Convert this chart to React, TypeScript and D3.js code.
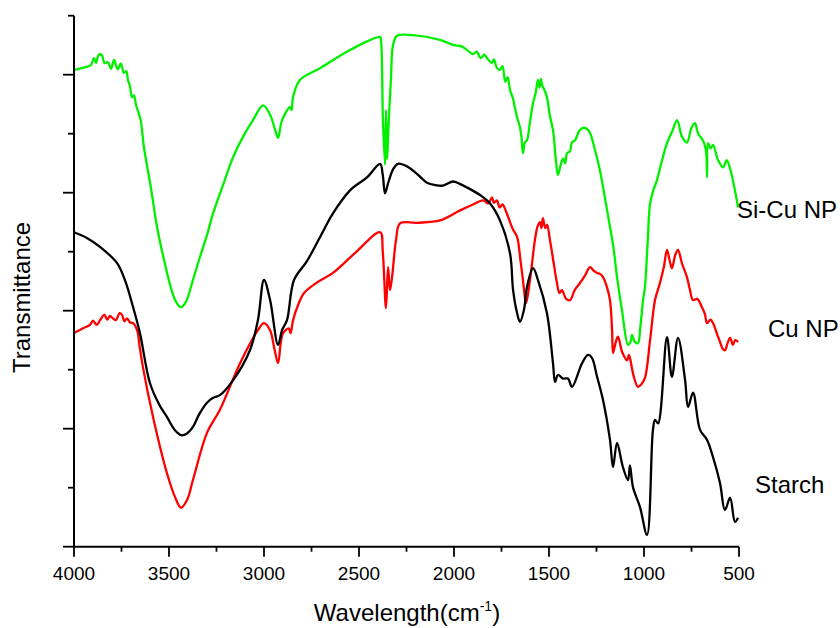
import React from "react";
import * as d3 from "d3";

// Wavenumber (cm-1) / transmittance (arb. units)
const siCuNP: [number, number][] = [
  [4000, 80.8], [3950, 81.2], [3912, 81.6], [3895, 82.8], [3884, 82.0], [3870, 83.4], [3853, 83.3],
  [3840, 82.0], [3821, 82.1], [3805, 81.0], [3789, 82.5], [3770, 80.9], [3754, 81.9], [3737, 80.3],
  [3725, 80.6], [3716, 79.1], [3705, 78.0], [3695, 76.2], [3685, 76.5], [3674, 74.9], [3660, 73.5],
  [3649, 72.3], [3640, 70.0], [3632, 67.7], [3596, 61.0], [3563, 54.2], [3526, 48.6], [3491, 44.0],
  [3463, 41.5], [3437, 40.6], [3411, 41.5], [3374, 45.2], [3337, 49.1], [3300, 52.8], [3268, 56.5],
  [3210, 61.8], [3163, 66.0], [3110, 69.5], [3058, 72.3], [3005, 74.8], [2968, 73.2], [2940, 70.5],
  [2926, 69.3], [2905, 72.3], [2863, 74.5], [2855, 74.0], [2847, 76.2], [2811, 79.1], [2705, 81.1],
  [2547, 84.2], [2389, 86.4], [2384, 85.8], [2374, 72.3], [2363, 64.7], [2358, 74.0], [2353, 65.7],
  [2342, 73.2], [2332, 79.1], [2321, 85.0], [2300, 86.6], [2216, 86.7], [2074, 85.9], [2000, 85.0],
  [1960, 84.8], [1932, 84.2], [1900, 83.5], [1880, 83.9], [1860, 82.8], [1840, 83.4], [1826, 82.8],
  [1800, 82.0], [1790, 82.6], [1775, 81.2], [1758, 80.8], [1745, 81.5], [1730, 78.8], [1718, 79.6],
  [1705, 77.4], [1690, 76.0], [1680, 74.5], [1668, 72.8], [1653, 71.1], [1645, 69.5], [1637, 66.7],
  [1627, 68.5], [1616, 68.9], [1600, 72.0], [1584, 75.2], [1570, 77.0], [1558, 79.1], [1550, 77.8],
  [1542, 79.3], [1537, 78.3], [1525, 77.5], [1511, 76.2], [1495, 73.0], [1479, 70.6], [1465, 66.0],
  [1453, 63.0], [1440, 64.5], [1426, 65.8], [1415, 65.0], [1405, 66.7], [1390, 67.0], [1380, 68.5],
  [1363, 68.9], [1340, 70.5], [1321, 71.0], [1300, 70.8], [1284, 70.1], [1260, 67.5], [1232, 63.8],
  [1205, 59.0], [1179, 54.2], [1160, 50.5], [1142, 45.7], [1116, 40.1], [1084, 34.2], [1072, 34.6],
  [1063, 35.9], [1050, 34.8], [1032, 34.5], [1020, 37.0], [1005, 41.8], [995, 44.0], [980, 52.0],
  [968, 58.2], [950, 60.5], [932, 62.1], [905, 65.5], [879, 68.4], [850, 70.5], [826, 72.3],
  [800, 69.5], [774, 68.5], [750, 71.0], [732, 71.8], [715, 70.0], [690, 68.9], [674, 67.2],
  [668, 62.6], [663, 68.4], [650, 67.5], [637, 68.1], [610, 65.5], [584, 64.3], [565, 65.5],
  [547, 64.1], [525, 61.0], [505, 57.5]
];

const cuNP: [number, number][] = [
  [4000, 36.2], [3960, 36.9], [3916, 37.6], [3900, 38.3], [3880, 37.6], [3863, 38.4], [3840, 39.3],
  [3825, 38.5], [3811, 39.1], [3795, 38.7], [3779, 38.4], [3760, 39.6], [3747, 39.3], [3735, 38.2],
  [3721, 38.7], [3705, 38.0], [3689, 37.9], [3668, 36.7], [3655, 34.0], [3637, 30.4], [3584, 22.0],
  [3511, 12.5], [3468, 8.4], [3437, 6.6], [3405, 7.9], [3374, 11.3], [3300, 19.3], [3232, 23.2],
  [3126, 31.1], [3032, 36.7], [3000, 37.9], [2968, 36.7], [2945, 33.5], [2926, 31.1], [2912, 34.5],
  [2900, 36.2], [2870, 37.0], [2860, 36.2], [2847, 38.4], [2820, 41.0], [2789, 43.0], [2720, 44.8],
  [2637, 46.4], [2520, 49.8], [2389, 53.3], [2375, 50.0], [2358, 40.4], [2347, 47.4], [2337, 43.5],
  [2326, 45.7], [2305, 52.0], [2284, 54.8], [2195, 54.9], [2074, 55.3], [1968, 57.0], [1900, 58.0],
  [1847, 58.7], [1820, 58.2], [1800, 59.2], [1790, 58.3], [1774, 58.7], [1760, 57.5], [1745, 58.0],
  [1721, 56.4], [1705, 55.0], [1690, 53.8], [1668, 52.5], [1650, 48.5], [1637, 45.2], [1621, 41.3],
  [1600, 45.2], [1574, 52.0], [1560, 54.3], [1547, 55.0], [1540, 54.0], [1532, 55.7], [1520, 54.0],
  [1510, 54.6], [1495, 52.0], [1475, 48.0], [1458, 44.7], [1445, 43.0], [1432, 43.5], [1410, 42.0],
  [1389, 41.8], [1365, 43.5], [1337, 44.7], [1310, 46.0], [1284, 47.4], [1265, 46.8], [1247, 46.4],
  [1230, 46.2], [1216, 45.7], [1195, 44.0], [1179, 41.8], [1168, 36.7], [1163, 32.8], [1150, 34.5],
  [1137, 35.6], [1115, 33.0], [1089, 31.6], [1080, 32.5], [1074, 32.0], [1055, 29.0], [1032, 27.1],
  [1015, 27.5], [995, 28.6], [968, 35.0], [942, 41.8], [916, 44.7], [895, 47.5], [879, 50.3],
  [865, 48.5], [853, 47.2], [835, 49.5], [821, 50.3], [800, 48.0], [774, 45.7], [758, 43.5],
  [742, 41.8], [720, 42.0], [695, 40.6], [680, 39.5], [668, 37.9], [650, 38.5], [637, 37.9],
  [615, 36.0], [600, 34.7], [585, 33.5], [574, 33.3], [560, 34.5], [547, 35.4], [532, 34.2],
  [520, 35.0], [505, 34.7]
];

const starch: [number, number][] = [
  [4000, 53.3], [3930, 52.3], [3863, 50.8], [3774, 48.1], [3730, 45.0], [3689, 40.6], [3653, 36.2],
  [3600, 27.7], [3550, 24.0], [3511, 22.0], [3470, 19.8], [3437, 18.9], [3405, 19.2], [3374, 20.3],
  [3340, 22.5], [3300, 24.4], [3270, 25.2], [3232, 25.7], [3163, 28.2], [3074, 33.3], [3032, 38.4],
  [3000, 45.2], [2968, 41.8], [2926, 34.2], [2905, 36.7], [2879, 38.4], [2842, 45.2], [2774, 48.4],
  [2700, 52.8], [2637, 56.5], [2547, 60.4], [2458, 62.6], [2389, 64.9], [2375, 63.0], [2363, 59.9],
  [2347, 61.6], [2320, 64.0], [2295, 64.9], [2250, 64.5], [2195, 63.2], [2142, 61.7], [2100, 61.3],
  [2058, 61.2], [2005, 61.9], [1970, 61.5], [1932, 60.9], [1863, 59.6], [1811, 58.2], [1758, 55.3],
  [1705, 49.7], [1689, 43.5], [1668, 39.6], [1653, 38.1], [1632, 40.1], [1616, 44.0], [1584, 47.2],
  [1558, 45.2], [1511, 39.6], [1479, 31.1], [1468, 27.9], [1453, 29.1], [1426, 28.5], [1400, 28.5],
  [1379, 27.1], [1326, 31.1], [1295, 32.5], [1274, 32.0], [1247, 28.8], [1216, 24.9], [1179, 18.1],
  [1163, 13.5], [1142, 17.6], [1111, 13.5], [1084, 11.3], [1074, 13.8], [1058, 10.1], [1021, 6.7],
  [984, 2.0], [953, 19.8], [942, 21.5], [926, 20.9], [879, 35.5], [853, 28.8], [821, 35.4],
  [784, 28.3], [768, 23.7], [742, 26.1], [705, 19.8], [668, 18.1], [637, 15.2], [600, 10.8],
  [574, 6.2], [547, 8.3], [521, 4.2], [505, 4.9]
];

const xTickValues = [4000, 3750, 3500, 3250, 3000, 2750, 2500, 2250, 2000, 1750, 1500, 1250, 1000, 750, 500];
const xTickLabels = ["4000", "", "3500", "", "3000", "", "2500", "", "2000", "", "1500", "", "1000", "", "500"];
const yTickValues = [0, 10, 20, 30, 40, 50, 60, 70, 80, 90];

const seriesNames = ["Si-Cu NP", "Cu NP", "Starch"];
const seriesColors = ["#00f000", "#ff0000", "#000000"];

export default function App() {
  const x = d3.scaleLinear().domain([4000, 500]).range([74, 739]);
  const y = d3.scaleLinear().domain([0, 90]).range([546.7, 15.7]);
  const line = d3
    .line<[number, number]>()
    .x((d) => x(d[0]))
    .y((d) => y(d[1]))
    .curve(d3.curveCatmullRom.alpha(0.5));

  const allSeries = [siCuNP, cuNP, starch];
  const font = "Arial, 'Liberation Sans', Helvetica, sans-serif";

  return (
    <svg
      width={840}
      height={628}
      style={{ position: "absolute", left: 0, top: 0, background: "#fff" }}
      fontFamily={font}
    >
      <rect x={0} y={0} width={840} height={628} fill="#fff" />
      {allSeries.map((s, i) => (
        <path
          key={seriesNames[i]}
          d={line(s) || ""}
          fill="none"
          stroke={seriesColors[i]}
          strokeWidth={2.3}
          strokeLinejoin="round"
        />
      ))}
      {/* axes */}
      <line x1={x(4000)} x2={x(4000)} y1={y(90)} y2={y(0)} stroke="#000" strokeWidth={2} />
      <line x1={x(4000)} x2={x(500)} y1={y(0)} y2={y(0)} stroke="#000" strokeWidth={2} />
      {yTickValues.map((v) => (
        <line
          key={"yt" + v}
          x1={x(4000) - (v % 20 === 0 ? 11 : 6)}
          x2={x(4000)}
          y1={y(v)}
          y2={y(v)}
          stroke="#000"
          strokeWidth={1.8}
        />
      ))}
      {xTickValues.map((v, i) => (
        <g key={"xt" + v}>
          <line
            x1={x(v)}
            x2={x(v)}
            y1={y(0)}
            y2={y(0) + (v % 500 === 0 ? 10 : 5)}
            stroke="#000"
            strokeWidth={1.8}
          />
          {xTickLabels[i] && (
            <text x={x(v)} y={579.5} fontSize={19} textAnchor="middle" fill="#000">
              {xTickLabels[i]}
            </text>
          )}
        </g>
      ))}
      {/* axis titles */}
      <text x={407} y={621} fontSize={24} textAnchor="middle" fill="#000">
        Wavelength(cm
        <tspan fontSize={14} dy={-10}>-1</tspan>
        <tspan dy={10}>)</tspan>
      </text>
      <text
        transform="translate(29.5,297.5) rotate(-90)"
        fontSize={24}
        textAnchor="middle"
        fill="#000"
      >
        Transmittance
      </text>
      {/* series labels */}
      <text x={737} y={218} fontSize={24} fill="#000">{seriesNames[0]}</text>
      <text x={768} y={337} fontSize={24} fill="#000">{seriesNames[1]}</text>
      <text x={755} y={493} fontSize={24} fill="#000">{seriesNames[2]}</text>
    </svg>
  );
}
